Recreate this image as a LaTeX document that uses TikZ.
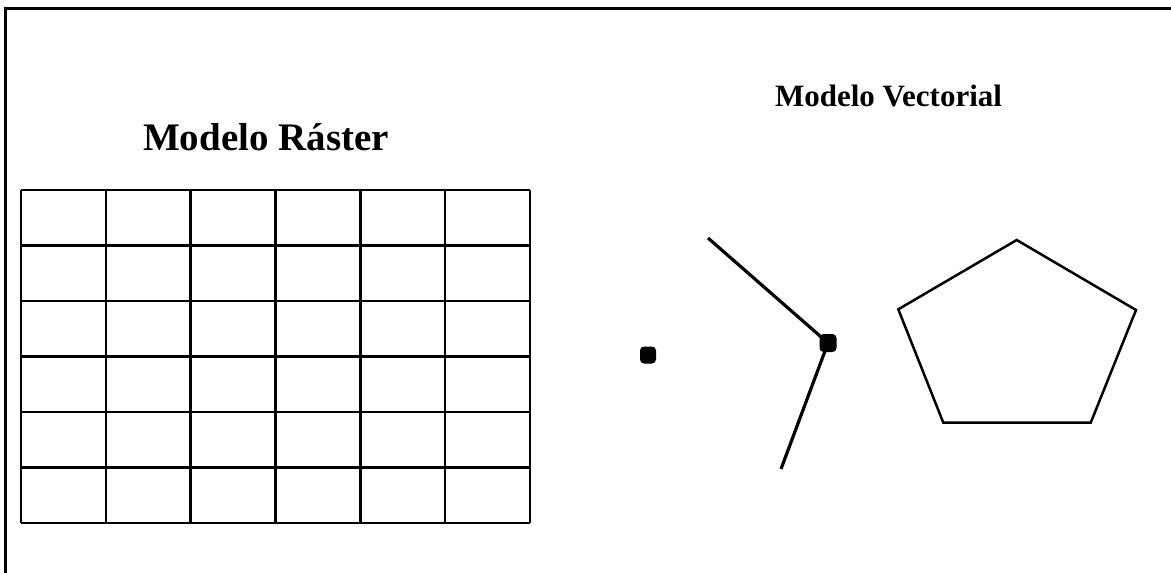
\documentclass[tikz,border=0pt]{standalone}
\usepackage{fontspec}
\setmainfont{Liberation Serif}
\begin{document}
\begin{tikzpicture}[x=1pt,y=-1pt,
  frameline/.style={line width=2.8pt},
  gridline/.style={line width=2.5pt},
  vecline/.style={line width=3.2pt},
  vertexdot/.style={fill=black,rounded corners=4pt,minimum size=16pt,inner sep=0pt},
  titletext/.style={inner sep=0pt,anchor=base,font=\bfseries}]
\useasboundingbox (0,0) rectangle (1171,573);
% frame (top and left edges)
\draw[frameline] (5.5,573) -- (5.5,8.5) -- (1171,8.5);
% titles
\node[titletext,font=\bfseries\fontsize{39}{46}\selectfont] (rtitle) at (266,150) {Modelo Ráster};
\node[titletext,font=\bfseries\fontsize{31}{37}\selectfont] (vtitle) at (888.5,106) {Modelo Vectorial};
% raster grid 6x6
\foreach \i in {0,...,6}{
  \draw[gridline] ({21+\i*84.83},190) -- ({21+\i*84.83},523);
  \draw[gridline] (21,{190+\i*55.5}) -- (530,{190+\i*55.5});
}
% point
\node[vertexdot,minimum width=16pt,minimum height=17pt] (pt) at (648,355) {};
% line
\coordinate (la) at (708,238);
\coordinate (lb) at (781,469);
\draw[vecline] (la) -- (828,343) -- (lb);
\node[vertexdot,minimum width=17pt,minimum height=18pt] (lv) at (828,343) {};
% polygon
\coordinate (p1) at (1016.7,240);
\coordinate (p2) at (1136,310);
\coordinate (p3) at (1090.7,422.7);
\coordinate (p4) at (943.3,422.7);
\coordinate (p5) at (898.3,309.3);
\draw[gridline,line join=miter] (p1) -- (p2) -- (p3) -- (p4) -- (p5) -- cycle;
\end{tikzpicture}
\end{document}
